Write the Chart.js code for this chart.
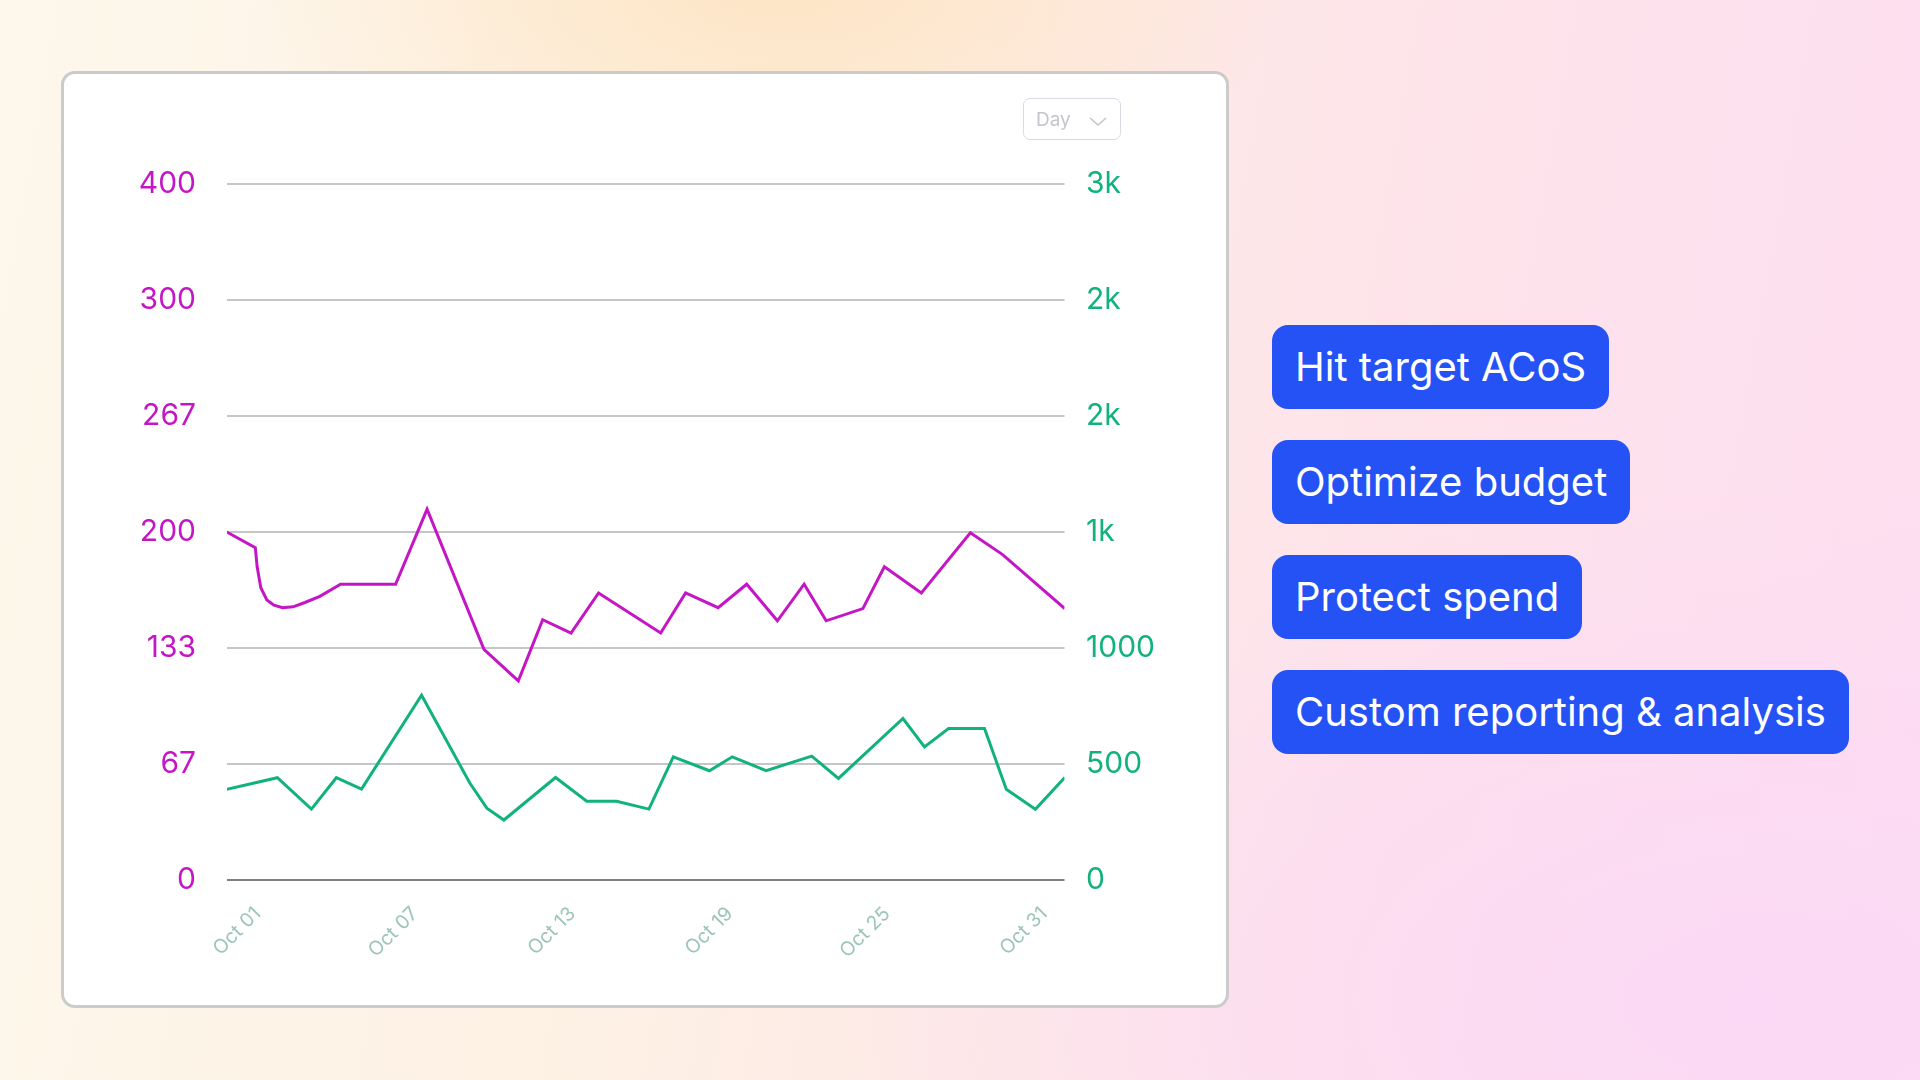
<!DOCTYPE html>
<html>
<head>
<meta charset="utf-8">
<script src="https://cdn.jsdelivr.net/npm/chart.js@4.4.1/dist/chart.umd.min.js"></script>
<style>
  html, body { margin: 0; padding: 0; }
  body {
    width: 1920px; height: 1080px; overflow: hidden; position: relative;
    font-family: Inter, "Noto Sans", sans-serif;
    background:
      radial-gradient(ellipse 520px 260px at 780px -20px, rgba(253, 228, 194, 0.95), rgba(253, 228, 194, 0)),
      radial-gradient(ellipse 900px 520px at 1750px 1000px, rgba(251, 216, 246, 0.9), rgba(251, 216, 246, 0)),
      linear-gradient(100deg, #fdf8ec 0%, #fdf1e4 35%, #fde3ea 70%, #fddef1 100%);
  }
  .card {
    position: absolute; left: 61px; top: 71px; width: 1168px; height: 937px;
    box-sizing: border-box; background: #fff; border: 3px solid #cbcbcb; border-radius: 14px;
  }
  #chart { position: absolute; left: 61px; top: 71px; }
  .day {
    position: absolute; left: 1023px; top: 98px; width: 98px; height: 42px;
    box-sizing: border-box; border: 1.5px solid #dcd8e6; border-radius: 7px;
    color: #c4c4cc; font-size: 19px; line-height: 42px; padding-left: 12px;
  }
  .day svg { position: absolute; left: 65px; top: 18px; }
  .tag {
    position: absolute; left: 1272px; height: 84px; box-sizing: border-box;
    background: #2552f4; color: #fff; border-radius: 16px;
    font-size: 40px; font-weight: 400; line-height: 84px; padding: 0 23px;
    white-space: nowrap;
  }
</style>
</head>
<body>
<div class="card"></div>
<canvas id="chart" width="1168" height="937"></canvas>
<div class="day">Day<svg width="18" height="10" viewBox="0 0 18 10"><polyline points="1,1 9,8 17,1" fill="none" stroke="#c4c4cc" stroke-width="1.6"/></svg></div>
<div class="tag" style="top:325px">Hit target ACoS</div>
<div class="tag" style="top:440px">Optimize budget</div>
<div class="tag" style="top:555px">Protect spend</div>
<div class="tag" style="top:670px">Custom reporting &amp; analysis</div>
<script>
// x positions are day offsets from Oct 01
const dayTicks = [0, 6, 12, 18, 24, 30];
const dayLabels = ['Oct 01', 'Oct 07', 'Oct 13', 'Oct 19', 'Oct 25', 'Oct 31'];

const acosDays = [-1.18, -0.09, -0.02, 0.12, 0.35, 0.62, 0.95, 1.35, 1.8, 2.37, 3.16, 5.26, 6.46, 8.63, 9.94, 10.87, 11.95, 13.0,
  15.37, 16.32, 17.56, 18.65, 19.82, 20.84, 21.68, 23.08, 23.9, 25.31, 27.18, 28.41, 30.78];
const acosValues = [200, 191, 180, 168, 161, 158, 156.5, 157, 159.5, 163, 170, 170, 213, 132.6, 114.5, 149.6, 142, 165,
  142, 165, 156.5, 170, 149, 170, 149, 156, 180, 165, 199.5, 187, 156];

const spendDays = [-1.18, 0.75, 2.05, 3.0, 3.96, 6.25, 8.09, 8.74, 9.39, 11.36, 12.55, 13.69, 14.92, 15.85,
  17.23, 18.1, 19.39, 21.13, 22.15, 24.61, 25.43, 26.35, 27.72, 28.55, 29.66, 30.78];
const spendValues = [392, 442, 307, 442, 393, 797, 419, 311, 260, 443, 341, 341, 307, 532,
  472, 532, 472, 535, 439, 697, 575, 654, 654, 392, 306, 443];

const acosTicks = [0, 400 / 6, 800 / 6, 200, 1600 / 6, 2000 / 6, 400];
const acosTickLabels = ['0', '67', '133', '200', '267', '300', '400'];
const spendTicks = [0, 500, 1000, 1500, 2000, 2500, 3000];
const spendTickLabels = ['0', '500', '1000', '1k', '2k', '2k', '3k'];

const magenta = '#c516c5';
const green = '#12b27f';

const ctx = document.getElementById('chart').getContext('2d');

new Chart(ctx, {
  type: 'line',
  data: {
    datasets: [
      {
        label: 'ACoS',
        data: acosDays.map((d, i) => ({ x: d, y: acosValues[i] })),
        yAxisID: 'y',
        borderColor: magenta,
        borderWidth: 3,
        pointRadius: 0,
        tension: 0
      },
      {
        label: 'Spend',
        data: spendDays.map((d, i) => ({ x: d, y: spendValues[i] })),
        yAxisID: 'y1',
        borderColor: green,
        borderWidth: 3,
        pointRadius: 0,
        tension: 0
      }
    ]
  },
  options: {
    responsive: false,
    animation: false,
    layout: { padding: { top: 112.5, left: 0, right: 0, bottom: 0 } },
    plugins: { legend: { display: false }, tooltip: { enabled: false } },
    scales: {
      x: {
        type: 'linear',
        min: -1.17,
        max: 30.77,
        afterBuildTicks: axis => { axis.ticks = dayTicks.map(v => ({ value: v })); },
        afterFit: axis => { axis.height = 127.6; },
        grid: { display: false },
        border: { display: false },
        ticks: {
          autoSkip: false,
          minRotation: 45,
          maxRotation: 45,
          padding: 14,
          color: '#9cc5b8',
          font: { family: 'Inter', size: 19.5 },
          callback: (v, i) => dayLabels[i]
        }
      },
      y: {
        position: 'left',
        min: 0,
        max: 400,
        afterBuildTicks: axis => { axis.ticks = acosTicks.map(v => ({ value: v })); },
        afterFit: axis => { axis.width = 166; },
        border: { display: false },
        grid: {
          drawTicks: false,
          lineWidth: 2,
          color: c => (c.tick && c.tick.value === 0 ? '#808080' : '#c6c6c6')
        },
        ticks: {
          padding: 31,
          color: magenta,
          font: { family: 'Inter', size: 30 },
          callback: (v, i) => acosTickLabels[i]
        }
      },
      y1: {
        position: 'right',
        min: 0,
        max: 3000,
        afterBuildTicks: axis => { axis.ticks = spendTicks.map(v => ({ value: v })); },
        afterFit: axis => { axis.width = 164.5; },
        border: { display: false },
        grid: { drawOnChartArea: false, drawTicks: false },
        ticks: {
          padding: 21.5,
          color: green,
          font: { family: 'Inter', size: 30 },
          callback: (v, i) => spendTickLabels[i]
        }
      }
    }
  }
});
</script>
</body>
</html>
